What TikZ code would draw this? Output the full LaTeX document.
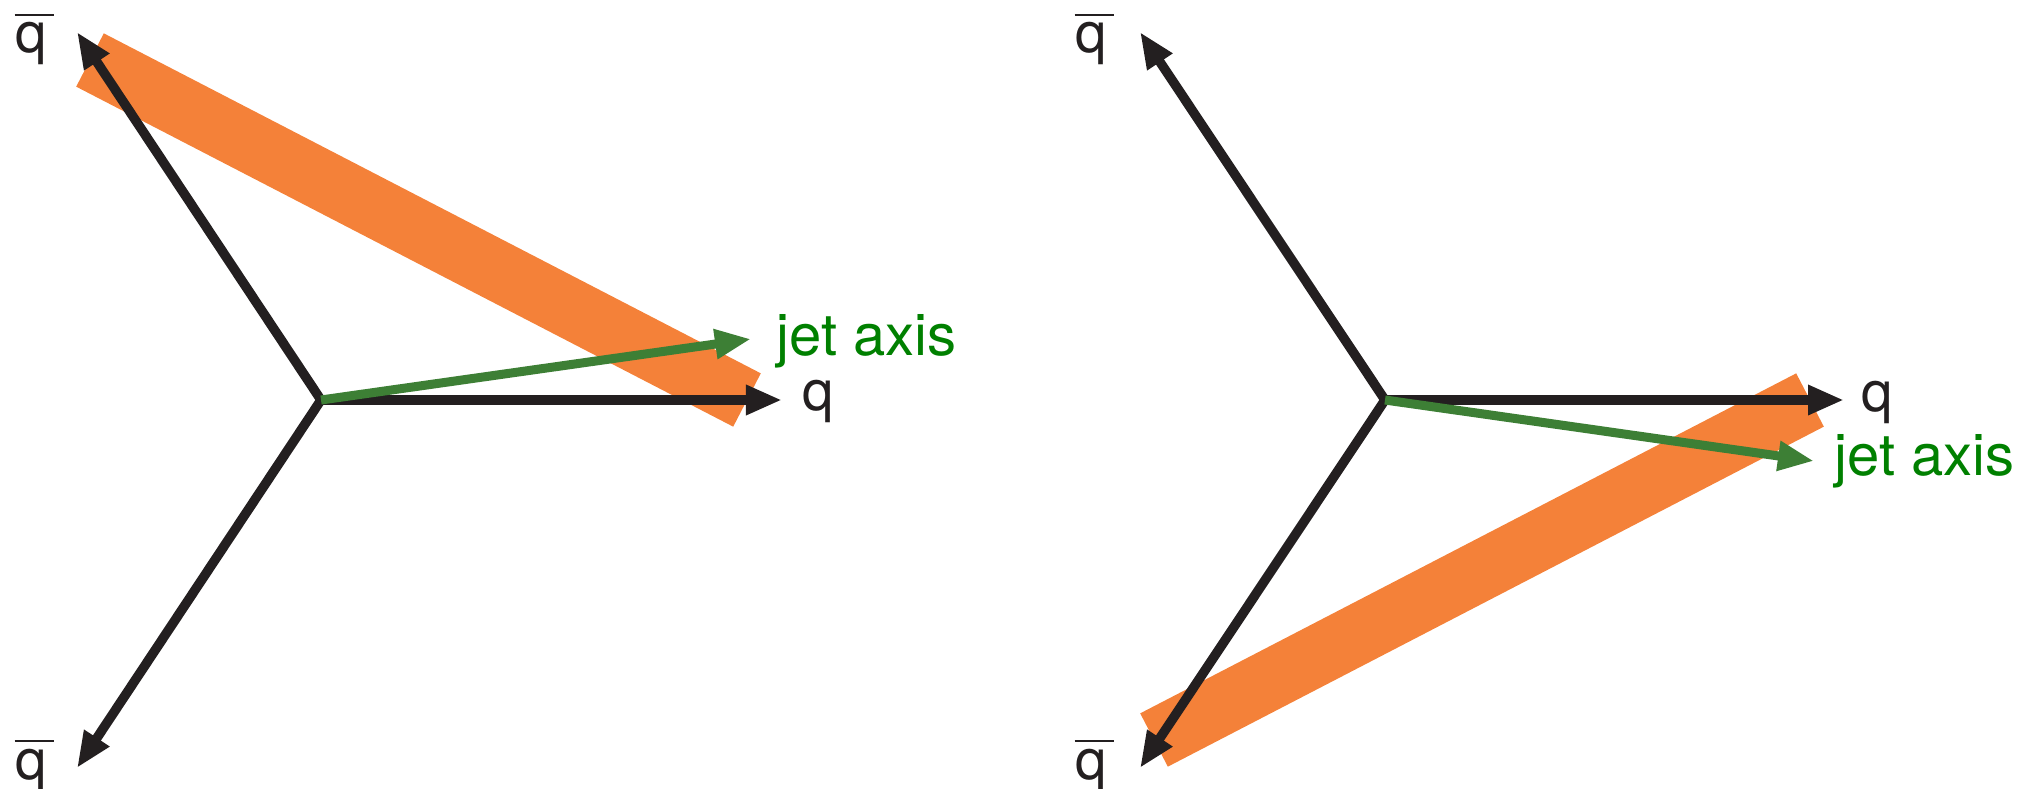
\documentclass[tikz,border=0pt]{standalone}
\usepackage{fontspec}
\setmainfont{TeX Gyre Heros}
\usetikzlibrary{arrows.meta}
\definecolor{bandorange}{HTML}{F48139}
\definecolor{axisgreen}{HTML}{3D7F35}
\definecolor{textgreen}{HTML}{008000}
\definecolor{inkblack}{HTML}{231F20}
\newcommand\qbarsym{\leavevmode\rlap{\kern-0.28pt\raisebox{10.48pt}{\rule{11.1pt}{0.65pt}}}q}
\tikzset{
  band/.style={draw=bandorange, line width=0.6cm, line cap=butt},
  quarkarrow/.style={draw=inkblack, line width=0.095cm, -{Triangle[length=0.36cm, width=0.28cm]}},
  jetarrow/.style={draw=axisgreen, line width=0.09cm, -{Triangle[length=0.36cm, width=0.28cm]}},
  qlabel/.style={anchor=base west, inner sep=0pt, text=inkblack, font=\fontsize{16}{19}\selectfont},
  jetlabel/.style={anchor=base west, inner sep=0pt, text=textgreen, font=\fontsize{16.5}{20}\selectfont},
}
\begin{document}
\begin{tikzpicture}[x=0.01cm, y=-0.01cm]
\useasboundingbox (0,0) rectangle (2031,788);
% ---------- left panel ----------
\coordinate (c1) at (321,400);
\coordinate (b1s) at (90,60);
\coordinate (b1e) at (747,400);
\coordinate (t1u) at (77,32);
\coordinate (t1d) at (77,768);
\coordinate (t1q) at (782,400);
\coordinate (t1j) at (751,339);
\draw[band] (b1s) -- (b1e);
\draw[quarkarrow] (c1) -- (t1u);
\draw[quarkarrow] (c1) -- (t1d);
\draw[quarkarrow] (c1) -- (t1q);
\draw[jetarrow] (c1) -- (t1j);
\node[qlabel] (l1u) at (15,53) {\qbarsym};
\node[qlabel] (l1d) at (15,779) {\qbarsym};
\node[qlabel] (l1q) at (802,410) {q};
\node[jetlabel] (l1j) at (776,355) {jet axis};
% ---------- right panel ----------
\coordinate (c2) at (1385,400);
\coordinate (b2s) at (1810,400);
\coordinate (b2e) at (1154,740);
\coordinate (t2u) at (1140,32);
\coordinate (t2d) at (1140,768);
\coordinate (t2q) at (1844,400);
\coordinate (t2j) at (1814,461);
\draw[band] (b2s) -- (b2e);
\draw[quarkarrow] (c2) -- (t2u);
\draw[quarkarrow] (c2) -- (t2d);
\draw[quarkarrow] (c2) -- (t2q);
\draw[jetarrow] (c2) -- (t2j);
\node[qlabel] (l2u) at (1075,53) {\qbarsym};
\node[qlabel] (l2d) at (1075,779) {\qbarsym};
\node[qlabel] (l2q) at (1861,411) {q};
\node[jetlabel] (l2j) at (1834,475) {jet axis};
\end{tikzpicture}
\end{document}
